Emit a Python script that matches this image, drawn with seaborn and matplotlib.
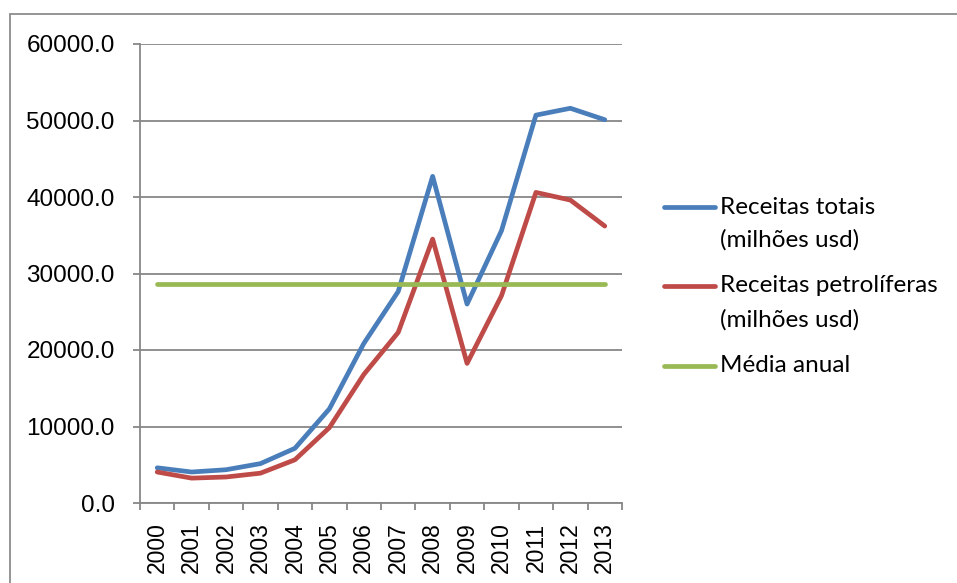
import matplotlib
matplotlib.use("Agg")
import matplotlib.pyplot as plt
import numpy as np
import pandas as pd
import seaborn as sns
from matplotlib.lines import Line2D
from matplotlib.patches import Rectangle
from matplotlib.ticker import FixedLocator, FormatStrFormatter

# ---- data -------------------------------------------------------------
anos = ["2000", "2001", "2002", "2003", "2004", "2005", "2006",
        "2007", "2008", "2009", "2010", "2011", "2012", "2013"]
receitas_totais = [4600, 4050, 4350, 5150, 7150, 12300, 20850,
                   27650, 42700, 26000, 35600, 50700, 51600, 50100]
receitas_petroliferas = [4050, 3250, 3400, 3900, 5650, 9850, 16800,
                         22300, 34500, 18250, 27100, 40600, 39600, 36200]
media_anual = [28600, 28600, 28600, 28600, 28600, 28600, 28600,
               28600, 28600, 28600, 28600, 28600, 28600, 28600]

series = ["Receitas totais\n(milhões usd)",
          "Receitas petrolíferas\n(milhões usd)",
          "Média anual"]
cores = ["#4A7EBB", "#BE4B48", "#98B954"]
y_ticks = [0, 10000, 20000, 30000, 40000, 50000, 60000]

# ---- long table for seaborn ----------------------------------------------
pos = list(range(len(anos)))
df = pd.concat([
    pd.DataFrame({"pos": pos, "valor": vals, "serie": nome})
    for nome, vals in zip(series, [receitas_totais, receitas_petroliferas, media_anual])
], ignore_index=True)

sns.set_theme(style="white")
W, H = 957, 583
fig = plt.figure(figsize=(W / 100, H / 100), dpi=100)
fig.patch.set_facecolor("white")
ax = fig.add_axes([140 / W, 80 / H, 482 / W, 459 / H])

sns.lineplot(data=df, x="pos", y="valor", hue="serie", hue_order=series,
             palette=cores, linewidth=3.4, legend=False, ax=ax,
             solid_capstyle="round", solid_joinstyle="round")

grid_col = "#878787"

ax.set_xlim(-0.5, len(anos) - 0.5)
ax.set_ylim(0, 60000)
ax.set_xlabel("")
ax.set_ylabel("")

# y axis
ax.yaxis.set_major_locator(FixedLocator(y_ticks))
ax.yaxis.set_major_formatter(FormatStrFormatter("%.1f"))
ax.yaxis.grid(True, color=grid_col, linewidth=1.3)
ax.set_axisbelow(True)
ax.tick_params(axis="y", which="major", direction="out", length=5.2,
               width=1.3, color=grid_col, pad=13, left=True)

# x axis: boundary tick marks, category labels centred between them
ax.xaxis.set_major_locator(FixedLocator(np.arange(-0.5, len(anos), 1.0)))
ax.xaxis.set_major_formatter(plt.NullFormatter())
ax.xaxis.set_minor_locator(FixedLocator(pos))
ax.set_xticklabels(anos, minor=True, rotation=90)
ax.tick_params(axis="x", which="major", direction="out", length=5.2,
               width=1.3, color=grid_col, bottom=True)
ax.tick_params(axis="x", which="minor", length=0, pad=14, bottom=True)

for lab in ax.get_xticklabels(minor=True):
    lab.set_fontfamily("Liberation Sans")
    lab.set_fontsize(16.5)
    lab.set_color("black")
for lab in ax.get_yticklabels():
    lab.set_fontfamily("Liberation Sans")
    lab.set_fontsize(17.5)
    lab.set_color("black")

for side in ["top", "right"]:
    ax.spines[side].set_visible(False)
for side in ["left", "bottom"]:
    ax.spines[side].set_color(grid_col)
    ax.spines[side].set_linewidth(1.3)

# chart frame
fig.add_artist(Rectangle((10 / W, -0.1), 2.0, (H - 14) / H + 0.1,
                         transform=fig.transFigure, fill=False,
                         edgecolor="#8c8c8c", linewidth=1.3))

# legend
leg_rows = [[207, 240], [286, 320], [366]]
for nome, cor, rows in zip(series, cores, leg_rows):
    y0 = 1 - rows[0] / H
    fig.add_artist(Line2D([664 / W, 715 / W], [y0, y0], transform=fig.transFigure,
                          color=cor, linewidth=3.4, solid_capstyle="round"))
    for linha, r in zip(nome.split("\n"), rows):
        fig.text(720 / W, 1 - r / H, linha, ha="left", va="center",
                 family="Lato", fontsize=17.5, color="black")

fig.savefig("out.png", dpi=100, facecolor="white")
